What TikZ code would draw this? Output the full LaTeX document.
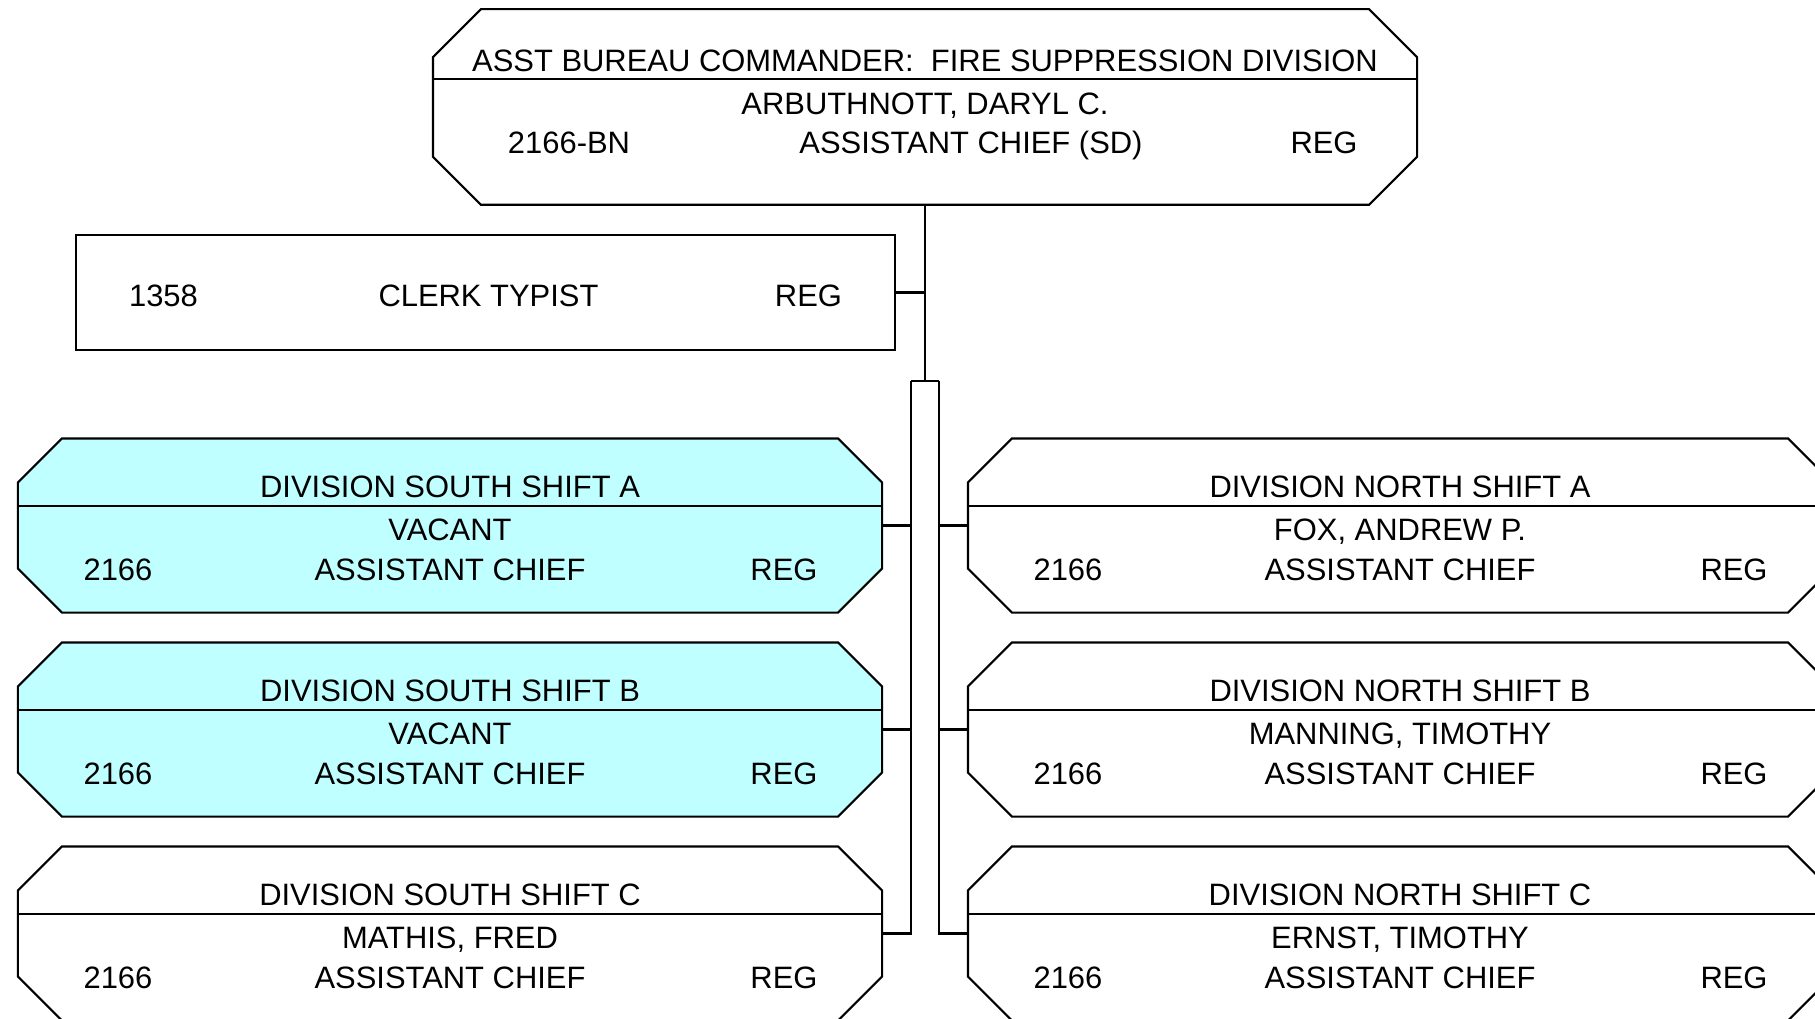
\documentclass[tikz,border=0pt]{standalone}
\usepackage{fontspec}
\setmainfont{Liberation Sans}
\usetikzlibrary{positioning}
\definecolor{vacantfill}{RGB}{192,255,255}

% chamfered outline of a box node: #1 node, #2 chamfer, #3 fill
\newcommand{\chamfer}[3]{%
  \filldraw[fill=#3] ([xshift=#2]#1.north west) -- ([xshift=-#2]#1.north east) -- ([yshift=-#2]#1.north east)
    -- ([yshift=#2]#1.south east) -- ([xshift=-#2]#1.south east) -- ([xshift=#2]#1.south west)
    -- ([yshift=#2]#1.south west) -- ([yshift=-#2]#1.north west) -- cycle;
}
% one unit box: #1 node, #2 fill, #3 title, #4 name, #5 code, #6 class
\newcommand{\unitbox}[6]{%
  \chamfer{#1}{0.88cm}{#2}
  \draw ([yshift=0.39cm]#1.west) -- ([yshift=0.39cm]#1.east);
  \node[txt] at ([yshift=0.79cm]#1.center) {#3};
  \node[txt] at ([yshift=-0.07cm]#1.center) {#4};
  \node[txt] at ([xshift=-6.64cm,yshift=-0.87cm]#1.center) {#5};
  \node[txt] at ([yshift=-0.87cm]#1.center) {#6};
  \node[txt] at ([xshift=6.68cm,yshift=-0.87cm]#1.center) {REG};
}

\begin{document}
\begin{tikzpicture}[node distance=4.08cm,on grid,line width=1.2pt,line join=miter,
    unit/.style={rectangle,minimum width=17.24cm,minimum height=3.44cm,inner sep=0pt},
    txt/.style={inner sep=0pt,text height=12.6pt,text depth=0pt,font=\fontsize{17.6}{21}\selectfont}]
    \useasboundingbox (0,0) rectangle (36.3,-20.38);

    \node[unit,minimum width=19.64cm,minimum height=3.87cm] (cmdr) at (18.5,-2.14) {};
    \chamfer{cmdr}{0.96cm}{white}
    \draw ([yshift=0.56cm]cmdr.west) -- ([yshift=0.56cm]cmdr.east);
    \node[txt] at ([yshift=0.94cm]cmdr.center) {ASST BUREAU COMMANDER:\ \ FIRE SUPPRESSION DIVISION};
    \node[txt] at ([yshift=0.08cm]cmdr.center) {ARBUTHNOTT, DARYL C.};
    \node[txt] at ([xshift=-7.12cm,yshift=-0.70cm]cmdr.center) {2166-BN};
    \node[txt] at ([xshift=0.92cm,yshift=-0.70cm]cmdr.center) {ASSISTANT CHIEF (SD)};
    \node[txt] at ([xshift=7.98cm,yshift=-0.70cm]cmdr.center) {REG};

    \node[draw,minimum width=16.38cm,minimum height=2.3cm] (clerk) [below left=3.71cm and 8.79cm of cmdr] {};
    \node[txt] at ([xshift=-6.44cm,yshift=-0.06cm]clerk.center) {1358};
    \node[txt] at ([xshift=0.06cm,yshift=-0.06cm]clerk.center) {CLERK TYPIST};
    \node[txt] at ([xshift=6.46cm,yshift=-0.06cm]clerk.center) {REG};

    \node[unit] (sA) [below left=8.37cm and 9.5cm of cmdr] {};
    \node[unit] (sB) [below=of sA] {};
    \node[unit] (sC) [below=of sB] {};
    \node[unit] (nA) [right=19cm of sA] {};
    \node[unit] (nB) [right=19cm of sB] {};
    \node[unit] (nC) [right=19cm of sC] {};

    \unitbox{sA}{vacantfill}{DIVISION SOUTH SHIFT A}{VACANT}{2166}{ASSISTANT CHIEF}
    \unitbox{sB}{vacantfill}{DIVISION SOUTH SHIFT B}{VACANT}{2166}{ASSISTANT CHIEF}
    \unitbox{sC}{white}{DIVISION SOUTH SHIFT C}{MATHIS, FRED}{2166}{ASSISTANT CHIEF}
    \unitbox{nA}{white}{DIVISION NORTH SHIFT A}{FOX, ANDREW P.}{2166}{ASSISTANT CHIEF}
    \unitbox{nB}{white}{DIVISION NORTH SHIFT B}{MANNING, TIMOTHY}{2166}{ASSISTANT CHIEF}
    \unitbox{nC}{white}{DIVISION NORTH SHIFT C}{ERNST, TIMOTHY}{2166}{ASSISTANT CHIEF}

    % reporting lines
    \coordinate (bus) at ([yshift=-3.52cm]cmdr.south);
    \coordinate (lb) at ([xshift=-0.28cm]bus);
    \coordinate (rb) at ([xshift=0.28cm]bus);
    \draw (cmdr) -- (bus);
    \draw (clerk) -- (clerk -| cmdr);
    \draw (lb) -- (rb);
    \draw (lb) |- (sC);
    \draw (rb) |- (nC);
    \draw (sA) -- (sA -| lb);
    \draw (sB) -- (sB -| lb);
    \draw (nA) -- (nA -| rb);
    \draw (nB) -- (nB -| rb);
\end{tikzpicture}
\end{document}
